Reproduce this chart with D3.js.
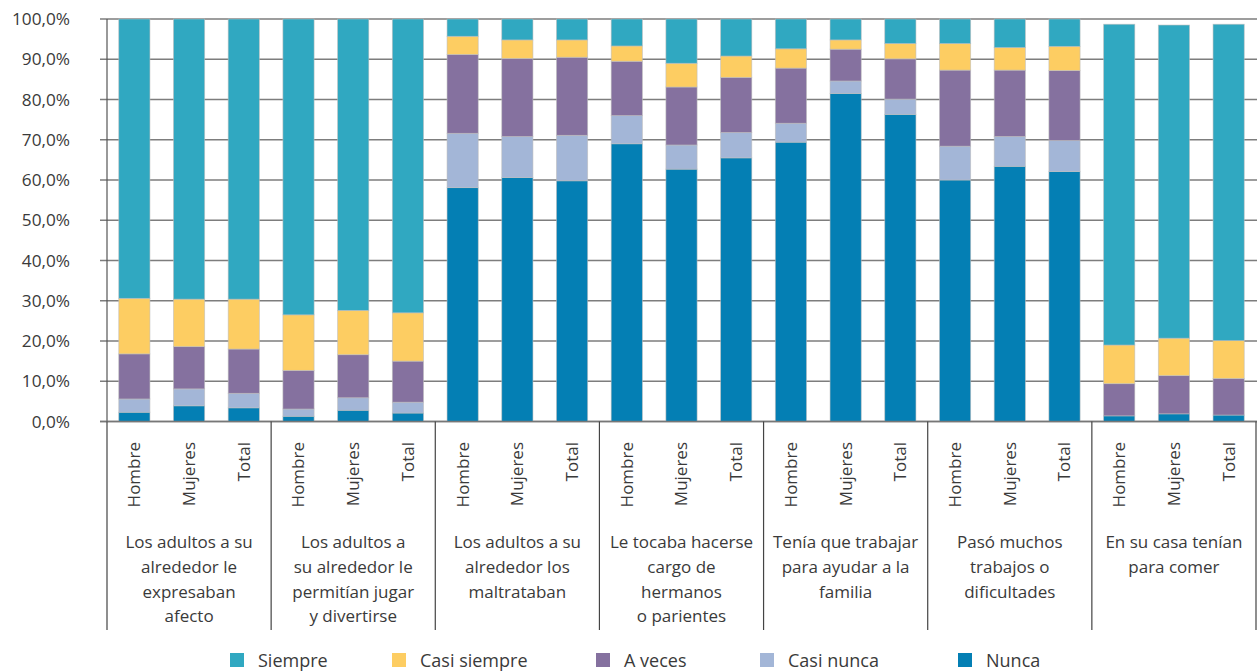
<!DOCTYPE html>
<html>
<head>
<meta charset="utf-8">
<script src="https://cdn.jsdelivr.net/npm/d3@7"></script>
<style>
  html, body { margin: 0; padding: 0; background: #fff; }
  svg text { font-family: "Open Sans", "Noto Sans", sans-serif; fill: #3a3a3a; }
</style>
</head>
<body>
<svg id="chart" width="1257" height="671"></svg>
<script>
// ---- data ----
const groupLabels = [
  ["Los adultos a su", "alrededor le", "expresaban", "afecto"],
  ["Los adultos a", "su alrededor le", "permitían jugar", "y divertirse"],
  ["Los adultos a su", "alrededor los", "maltrataban"],
  ["Le tocaba hacerse", "cargo de", "hermanos", "o parientes"],
  ["Tenía que trabajar", "para ayudar a la", "familia"],
  ["Pasó muchos", "trabajos o", "dificultades"],
  ["En su casa tenían", "para comer"]
];
const subCategories = ["Hombre", "Mujeres", "Total"];
const seriesNames = ["Nunca", "Casi nunca", "A veces", "Casi siempre", "Siempre"];
const legendOrder = ["Siempre", "Casi siempre", "A veces", "Casi nunca", "Nunca"];

const nunca       = [2.3,3.9,3.4, 1.3,2.8,2.1, 58.1,60.6,59.8, 69.0,62.7,65.5, 69.4,81.5,76.3, 60.0,63.4,62.1, 1.4,1.9,1.6];
const casiNunca   = [3.3,4.2,3.6, 1.8,3.1,2.7, 13.5,10.2,11.3, 7.0,6.0,6.3, 4.7,3.1,3.8, 8.4,7.4,7.7, 0,0,0];
const aVeces      = [11.2,10.5,11.0, 9.6,10.7,10.2, 19.6,19.4,19.4, 13.5,14.4,13.7, 13.7,7.9,10.0, 18.9,16.5,17.4, 8.0,9.5,9.1];
const casiSiempre = [13.8,11.8,12.4, 13.8,11.0,12.0, 4.5,4.6,4.3, 3.8,5.9,5.3, 4.8,2.3,3.8, 6.6,5.6,6.0, 9.6,9.3,9.4];
const siempre     = [69.4,69.6,69.6, 73.5,72.4,73.0, 4.3,5.2,5.2, 6.7,11.0,9.2, 7.4,5.2,6.1, 6.1,7.1,6.8, 79.7,77.8,78.6];
const yTicks = [0,10,20,30,40,50,60,70,80,90,100];

// ---- styles ----
const colors = {
  "Siempre": "#30a8c1",
  "Casi siempre": "#fdcd62",
  "A veces": "#85719f",
  "Casi nunca": "#a3b6d7",
  "Nunca": "#047fb4"
};

// ---- build table ----
const seriesValues = [nunca, casiNunca, aVeces, casiSiempre, siempre];
const rows = [];
groupLabels.forEach((g, gi) => {
  subCategories.forEach((s, si) => {
    const idx = gi * 3 + si;
    const row = { key: idx, sub: s, group: gi };
    seriesNames.forEach((n, ni) => row[n] = seriesValues[ni][idx]);
    rows.push(row);
  });
});

const svg = d3.select("#chart");
const plotL = 107, plotR = 1256, plotT = 19, plotB = 421.5;

const x = d3.scaleBand().domain(rows.map(r => r.key)).range([plotL, plotR])
  .paddingInner(0.43).paddingOuter(0.215);
const y = d3.scaleLinear().domain([0, 100]).range([plotB, plotT]);
const groupX = d3.scaleLinear().domain([0, groupLabels.length]).range([plotL, plotR]);

// gridlines
svg.append("g").selectAll("line").data(yTicks).join("line")
  .attr("x1", 100).attr("x2", 1257)
  .attr("y1", d => y(d)).attr("y2", d => y(d))
  .attr("stroke", "#7d7d7d").attr("stroke-width", 1.4);

// y axis labels
svg.append("g").selectAll("text").data(yTicks).join("text")
  .attr("x", 70).attr("y", d => y(d)).attr("dy", "0.36em")
  .attr("text-anchor", "end").attr("font-size", 17.2)
  .text(d => d3.format(".1f")(d).replace(".", ",") + "%");

// stacked bars
const stack = d3.stack().keys(seriesNames);
const stacked = stack(rows);
svg.append("g").selectAll("g").data(stacked).join("g")
  .attr("fill", d => colors[d.key])
  .selectAll("rect").data(d => d).join("rect")
  .attr("x", d => x(d.data.key))
  .attr("width", x.bandwidth())
  .attr("y", d => y(d[1]))
  .attr("height", d => Math.max(0, y(d[0]) - y(d[1])))
  .attr("stroke", "rgba(190,190,190,0.7)").attr("stroke-width", 0.8);

// y axis line and baseline
svg.append("line").attr("x1", plotL).attr("x2", plotL).attr("y1", plotT).attr("y2", plotB)
  .attr("stroke", "#555").attr("stroke-width", 1.2);
svg.append("line").attr("x1", 100).attr("x2", 1257).attr("y1", plotB).attr("y2", plotB)
  .attr("stroke", "#777").attr("stroke-width", 1.4);

// group separators
svg.append("g").selectAll("line").data(d3.range(groupLabels.length + 1)).join("line")
  .attr("x1", d => groupX(d)).attr("x2", d => groupX(d))
  .attr("y1", plotB).attr("y2", 630)
  .attr("stroke", "#444").attr("stroke-width", 1.2);

// rotated subcategory labels
svg.append("g").selectAll("text").data(rows).join("text")
  .attr("transform", d => `translate(${x(d.key) + x.bandwidth() / 2},442) rotate(-90)`)
  .attr("text-anchor", "end").attr("dy", "0.35em").attr("font-size", 17)
  .text(d => d.sub);

// group labels
const gl = svg.append("g").selectAll("text").data(groupLabels).join("text")
  .attr("text-anchor", "middle").attr("font-size", 17)
  .attr("x", (d, i) => (groupX(i) + groupX(i + 1)) / 2);
gl.selectAll("tspan").data(d => d).join("tspan")
  .attr("x", function() { return d3.select(this.parentNode).attr("x"); })
  .attr("y", (d, i) => 548 + i * 24.8)
  .text(d => d);

// legend
const legendX = [230, 392, 596, 760, 958];
const lg = svg.append("g").selectAll("g").data(legendOrder).join("g")
  .attr("transform", (d, i) => `translate(${legendX[i]},653)`);
lg.append("rect").attr("width", 14).attr("height", 14).attr("fill", d => colors[d]);
lg.append("text").attr("x", 28).attr("y", 14).attr("font-size", 18).text(d => d);
</script>
</body>
</html>
